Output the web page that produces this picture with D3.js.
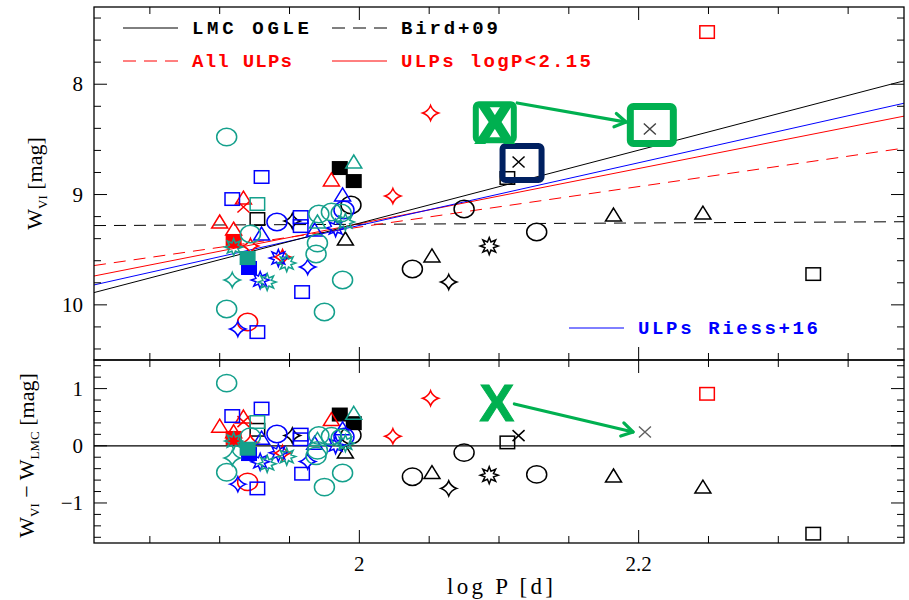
<!DOCTYPE html>
<html>
<head>
<meta charset="utf-8">
<script src="https://cdn.jsdelivr.net/npm/d3@7"></script>
<style>
  body { margin: 0; background: #fff; }
  text { fill: #000; }
</style>
</head>
<body>
<svg id="chart" width="909" height="600"></svg>
<script>
// ---- Cepheid samples: [log P (days), W_VI (mag), marker] ----
const blackSample = [
  [2.325, 9.721, "square"], [2.246, 9.168, "triangle"], [2.182, 9.186, "triangle"],
  [2.127, 9.340, "circle"], [2.093, 9.467, "burst"], [2.075, 9.131, "circle"],
  [2.052, 9.557, "triangle"], [2.038, 9.675, "circle"], [2.064, 9.793, "star4"],
  [2.106, 8.850, "square"], [2.114, 8.705, "cross"], [1.986, 8.760, "filled"],
  [1.996, 8.878, "filled"], [1.994, 9.095, "circle"], [1.990, 9.403, "triangle"],
  [1.927, 9.222, "square"], [1.952, 9.240, "star4"]
];
const redSample = [
  [2.249, 7.527, "square"], [2.051, 8.261, "star4"], [2.024, 9.013, "star4"],
  [1.980, 8.868, "triangle"], [1.917, 9.032, "triangle"], [1.917, 9.113, "cross"],
  [1.900, 9.249, "triangle"], [1.910, 9.313, "triangle"], [1.910, 9.421, "filled"],
  [1.920, 10.156, "circle"], [1.922, 9.467, "star4"], [1.945, 9.567, "star4"]
];
const blueSample = [
  [1.930, 8.841, "square"], [1.909, 9.041, "square"], [1.941, 9.249, "circle"],
  [1.958, 9.204, "square"], [1.958, 9.286, "square"], [1.988, 9.004, "triangle"],
  [1.989, 9.140, "circle"], [1.968, 9.322, "triangle"], [1.983, 9.304, "burst"],
  [1.921, 9.666, "filled"], [1.942, 9.576, "burst"], [1.929, 9.775, "burst"],
  [1.963, 9.657, "star4"], [1.959, 9.884, "square"], [1.913, 10.219, "star4"],
  [1.927, 10.247, "square"], [1.930, 9.358, "triangle"]
];
const tealSample = [
  [1.905, 8.479, "circle"], [1.996, 8.705, "triangle"], [1.927, 9.086, "square"],
  [1.971, 9.177, "circle"], [1.980, 9.159, "circle"], [1.987, 9.168, "circle"],
  [1.970, 9.249, "triangle"], [1.970, 9.440, "circle"], [1.969, 9.539, "circle"],
  [1.988, 9.775, "circle"], [1.905, 10.038, "circle"], [1.975, 10.065, "circle"],
  [1.922, 9.358, "circle"], [1.909, 9.775, "star4"], [1.934, 9.793, "burst"],
  [1.948, 9.621, "burst"], [1.920, 9.576, "filled"], [1.990, 9.249, "burst"],
  [1.910, 9.476, "burst"]
];

// ---- linear relations W = zp + slope * (log P - 2) ----
const lmcOgle   = [9.26, -3.31];
const bird09    = [9.27, -0.06];
const allUlps   = [9.295, -1.836];
const ulpsShort = [9.264, -2.499];
const riess16   = [9.28, -2.84];

// ---- revised star: old and new positions ----
const movedFromTop = [2.097, 8.344];
const movedToTop   = [2.208, 8.406];
const arrowTop     = [[2.113, 8.170], [2.191, 8.343]];
const movedFromRes = [2.0985, 0.766];
const movedToRes   = [2.2045, 0.241];
const arrowRes     = [[2.111, 0.731], [2.196, 0.241]];
const flaggedStar  = [2.114, 8.705];

// ---- axis ticks ----
const xMajor = [2.0, 2.2];
const xTickLabels = ["2", "2.2"];
const yTopMajor = [8, 9, 10];
const yResMajor = [1, 0, -1];
const yResLabels = ["1", "0", "\u22121"];

const colours = { black: "#000000", red: "#ff0000", blue: "#0000ff", teal: "#14a08c" };

const L = 94, R = 904, T = 7, MID = 360, B = 543;
const svg = d3.select("#chart");
svg.append("rect").attr("width", 909).attr("height", 600).attr("fill", "#fff");

const x = d3.scaleLinear().domain([1.81, 2.39]).range([L, R]);
const yTop = d3.scaleLinear().domain([7.3, 10.5]).range([T, MID]);
const yRes = d3.scaleLinear().domain([1.5, -1.7]).range([MID, B]);

const defs = svg.append("defs");
defs.append("clipPath").attr("id", "clipTop").append("rect")
  .attr("x", L).attr("y", T).attr("width", R - L).attr("height", MID - T);
defs.append("clipPath").attr("id", "clipRes").append("rect")
  .attr("x", L).attr("y", MID).attr("width", R - L).attr("height", B - MID);

const rel = (c, p) => c[0] + c[1] * (p - 2);
const residual = d => rel(lmcOgle, d[0]) - d[1];

const gTop = svg.append("g").attr("clip-path", "url(#clipTop)");
const gRes = svg.append("g").attr("clip-path", "url(#clipRes)");

// fitted relations
function relLine(c, colour, dash) {
  const dom = x.domain();
  gTop.append("line")
    .attr("x1", x(dom[0])).attr("y1", yTop(rel(c, dom[0])))
    .attr("x2", x(dom[1])).attr("y2", yTop(rel(c, dom[1])))
    .attr("stroke", colour).attr("stroke-width", 1)
    .attr("stroke-dasharray", dash || null);
}
relLine(bird09, "#000", "12,8");
relLine(allUlps, colours.red, "12,8");
relLine(ulpsShort, colours.red);
relLine(riess16, colours.blue);
relLine(lmcOgle, "#000");

// zero line of residual panel
gRes.append("line").attr("x1", L).attr("x2", R)
  .attr("y1", yRes(0)).attr("y2", yRes(0)).attr("stroke", "#000").attr("stroke-width", 1.2);

// marker shapes
const burstPath = (() => {
  const p = d3.path();
  d3.range(16).forEach(i => {
    const a = i * Math.PI / 8 - Math.PI / 2, r = i % 2 ? 4.6 : 9;
    const px = r * Math.cos(a), py = r * Math.sin(a) * 0.95;
    i ? p.lineTo(px, py) : p.moveTo(px, py);
  });
  p.closePath();
  return p.toString();
})();
const shapePaths = {
  triangle: "M0,-7L8,6L-8,6Z",
  star4: "M0,-7.5Q2,-2 8,0Q2,2 0,7.5Q-2,2 -8,0Q-2,-2 0,-7.5Z",
  burst: burstPath,
  cross: "M-6,-5.5L6,5.5M-6,5.5L6,-5.5"
};

function mark(g, kind, cx, cy, colour, sw) {
  sw = sw || 1.5;
  if (kind === "circle") {
    g.append("ellipse").attr("cx", cx).attr("cy", cy).attr("rx", 10).attr("ry", 8.7)
      .attr("fill", "none").attr("stroke", colour).attr("stroke-width", sw);
  } else if (kind === "square" || kind === "filled") {
    g.append("rect").attr("x", cx - 7.25).attr("y", cy - 6.25).attr("width", 14.5).attr("height", 12.5)
      .attr("fill", kind === "filled" ? colour : "none").attr("stroke", colour).attr("stroke-width", sw);
  } else {
    g.append("path").attr("d", shapePaths[kind]).attr("transform", `translate(${cx},${cy})`)
      .attr("fill", "none").attr("stroke", colour).attr("stroke-width", sw)
      .attr("stroke-linejoin", "miter");
  }
}

const groups = [["black", blackSample], ["red", redSample], ["blue", blueSample], ["teal", tealSample]];
groups.forEach(([name, data]) => {
  data.forEach(d => {
    mark(gTop, d[2], x(d[0]), yTop(d[1]), colours[name]);
    mark(gRes, d[2], x(d[0]), yRes(residual(d)), colours[name]);
  });
});

// flagged star box
svg.append("rect")
  .attr("x", x(flaggedStar[0]) - 16).attr("y", yTop(flaggedStar[1]) - 16)
  .attr("width", 39).attr("height", 34).attr("rx", 3)
  .attr("fill", "none").attr("stroke", "#002060").attr("stroke-width", 6);

const green = "#00b050";
// revised position box (covers the relation lines)
svg.append("rect")
  .attr("x", x(movedToTop[0]) - 19.5).attr("y", yTop(movedToTop[1]) - 22.5)
  .attr("width", 43).attr("height", 37).attr("rx", 3)
  .attr("fill", "#fff").attr("stroke", green).attr("stroke-width", 7);
mark(svg, "cross", x(movedToTop[0]), yTop(movedToTop[1]), "#404040", 1.4);
mark(svg, "cross", x(movedToRes[0]), yRes(movedToRes[1]), "#606060", 1.4);

// old position box with X
svg.append("rect")
  .attr("x", x(movedFromTop[0]) - 19).attr("y", yTop(movedFromTop[1]) - 18)
  .attr("width", 38).attr("height", 36).attr("rx", 3)
  .attr("fill", "#fff").attr("stroke", green).attr("stroke-width", 6);
svg.append("text").attr("x", x(movedFromTop[0])).attr("y", yTop(movedFromTop[1]) + 21)
  .attr("text-anchor", "middle").attr("font-family", "Liberation Sans, Arial, sans-serif")
  .attr("font-weight", "bold").attr("font-size", 58).style("fill", green)
  .attr("stroke", green).attr("stroke-width", 2).text("X");
svg.append("text").attr("x", x(movedFromRes[0])).attr("y", yRes(movedFromRes[1]) + 19)
  .attr("text-anchor", "middle").attr("font-family", "Liberation Sans, Arial, sans-serif")
  .attr("font-weight", "bold").attr("font-size", 52).style("fill", green)
  .attr("stroke", green).attr("stroke-width", 1).text("X");

function arrow(p0, p1, ys) {
  const x0 = x(p0[0]), y0 = ys(p0[1]), x1 = x(p1[0]), y1 = ys(p1[1]);
  const a = Math.atan2(y1 - y0, x1 - x0), h = 13, s = 0.55;
  svg.append("line").attr("x1", x0).attr("y1", y0).attr("x2", x1).attr("y2", y1)
    .attr("stroke", green).attr("stroke-width", 3.2).attr("stroke-linecap", "round");
  svg.append("path")
    .attr("d", `M${x1 - h * Math.cos(a - s)},${y1 - h * Math.sin(a - s)}L${x1},${y1}L${x1 - h * Math.cos(a + s)},${y1 - h * Math.sin(a + s)}`)
    .attr("fill", "none").attr("stroke", green).attr("stroke-width", 3.2)
    .attr("stroke-linecap", "round").attr("stroke-linejoin", "round");
}
arrow(arrowTop[0], arrowTop[1], yTop);
arrow(arrowRes[0], arrowRes[1], yRes);

// frames and ticks
const axes = svg.append("g").attr("stroke", "#000");
axes.append("rect").attr("x", L).attr("y", T).attr("width", R - L).attr("height", MID - T)
  .attr("fill", "none").attr("stroke-width", 1.3);
axes.append("rect").attr("x", L).attr("y", MID).attr("width", R - L).attr("height", B - MID)
  .attr("fill", "none").attr("stroke-width", 1.3);

const xMinor = d3.range(37, 48).map(k => +(k * 0.05).toFixed(2));
function xTicks(top, bottom) {
  xMinor.forEach(v => {
    const len = xMajor.includes(v) ? 13 : 7;
    axes.append("line").attr("x1", x(v)).attr("x2", x(v)).attr("y1", top).attr("y2", top + len).attr("stroke-width", 1);
    axes.append("line").attr("x1", x(v)).attr("x2", x(v)).attr("y1", bottom).attr("y2", bottom - len).attr("stroke-width", 1);
  });
}
function yTicks(scale, values, majors) {
  values.forEach(v => {
    const len = majors.includes(v) ? 13 : 7;
    axes.append("line").attr("x1", L).attr("x2", L + len).attr("y1", scale(v)).attr("y2", scale(v)).attr("stroke-width", 1);
    axes.append("line").attr("x1", R).attr("x2", R - len).attr("y1", scale(v)).attr("y2", scale(v)).attr("stroke-width", 1);
  });
}
xTicks(T, MID);
xTicks(MID, B);
yTicks(yTop, d3.range(37, 53).map(k => +(k * 0.2).toFixed(1)), yTopMajor);
yTicks(yRes, d3.range(-8, 8).map(k => +(k * 0.2).toFixed(1)), yResMajor);

// tick labels
const serif = "Liberation Serif, Times New Roman, serif";
xMajor.forEach((v, i) => {
  svg.append("text").attr("x", x(v)).attr("y", 571).attr("text-anchor", "middle")
    .attr("font-family", serif).attr("font-size", 21).text(xTickLabels[i]);
});
yTopMajor.forEach(v => {
  svg.append("text").attr("x", 83).attr("y", yTop(v) + 7).attr("text-anchor", "end")
    .attr("font-family", serif).attr("font-size", 21).text(String(v));
});
yResMajor.forEach((v, i) => {
  svg.append("text").attr("x", 83).attr("y", yRes(v) + 7).attr("text-anchor", "end")
    .attr("font-family", serif).attr("font-size", 21).text(yResLabels[i]);
});

// axis titles
svg.append("text").attr("x", 500).attr("y", 594).attr("text-anchor", "middle")
  .attr("font-family", serif).attr("font-size", 23).attr("textLength", 106)
  .text("log P [d]");

const tTop = svg.append("text").attr("transform", `translate(42,${(T + MID) / 2}) rotate(-90)`)
  .attr("text-anchor", "middle").attr("font-family", serif).attr("font-size", 22);
tTop.append("tspan").text("W");
tTop.append("tspan").attr("dy", 5).attr("font-size", 13).text("VI");
tTop.append("tspan").attr("dy", -5).text(" [mag]");

const tRes = svg.append("text").attr("transform", `translate(34,${(MID + B) / 2 + 4}) rotate(-90)`)
  .attr("text-anchor", "middle").attr("font-family", serif).attr("font-size", 22);
tRes.append("tspan").text("W");
tRes.append("tspan").attr("dy", 5).attr("font-size", 13).text("VI");
tRes.append("tspan").attr("dy", -5).text(" \u2212 W");
tRes.append("tspan").attr("dy", 5).attr("font-size", 13).text("LMC");
tRes.append("tspan").attr("dy", -5).text(" [mag]");

// legend
const mono = "Liberation Mono, Courier New, monospace";
function legendItem(x0, y0, colour, dash, label, width) {
  svg.append("line").attr("x1", x0).attr("x2", x0 + 55).attr("y1", y0).attr("y2", y0)
    .attr("stroke", colour).attr("stroke-width", 1).attr("stroke-dasharray", dash || null);
  svg.append("text").attr("x", x0 + 69).attr("y", y0 + 6)
    .attr("font-family", mono).attr("font-weight", "bold").attr("font-size", 19)
    .attr("textLength", width).attr("lengthAdjust", "spacing")
    .style("fill", colour).text(label);
}
legendItem(123, 28, "#000", null, "LMC OGLE", 117);
legendItem(332, 28, "#000", "13,8", "Bird+09", 97);
legendItem(123, 61, colours.red, "13,8", "All ULPs", 100);
legendItem(332, 61, colours.red, null, "ULPs logP<2.15", 190);
legendItem(569, 328, colours.blue, null, "ULPs Riess+16", 180);
</script>
</body>
</html>
